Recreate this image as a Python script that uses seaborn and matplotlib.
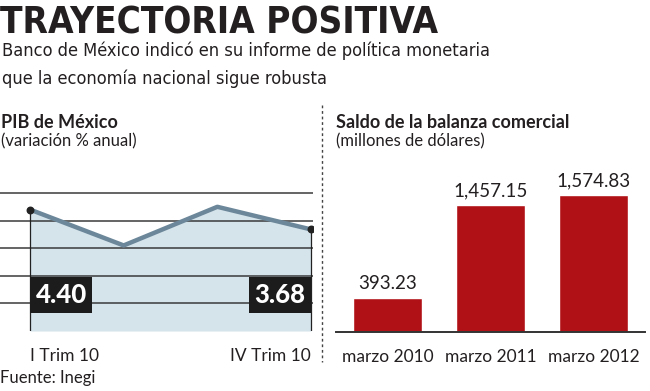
import pandas as pd
import matplotlib.pyplot as plt
import seaborn as sns
from matplotlib.lines import Line2D

# datos
trimestres = ["I Trim 10", "II Trim 10", "III Trim 10", "IV Trim 10"]
pib = [4.40, 3.1, 4.5, 3.68]
periodos = ["marzo 2010", "marzo 2011", "marzo 2012"]
saldo = [393.23, 1457.15, 1574.83]

sns.set_style("white")
plt.rcParams['font.family'] = ['Lato', 'DejaVu Sans']
cond = ['Liberation Sans Narrow', 'DejaVu Sans Condensed', 'DejaVu Sans']
ink = '#231f20'

W, H = 650, 391
fig = plt.figure(figsize=(W / 100, H / 100), dpi=100)

def fx(px):
    return px / W

def fy(px):
    return 1 - px / H

# ---- PIB (linea) ----
ax1 = fig.add_axes([fx(0), fy(331), fx(313), (331 - 185) / H])
df1 = pd.DataFrame({"pos": range(len(pib)), "pib": pib})
ax1.fill_between(df1["pos"], df1["pib"], 0, color='#d5e3eb', lw=0, zorder=0.2)
sns.lineplot(data=df1, x="pos", y="pib", color='#6b8799', lw=3.2, ax=ax1, zorder=3)
ends = df1.iloc[[0, -1]]
ax1.vlines(ends["pos"], 0, ends["pib"], color='#222222', lw=0.9, zorder=2.5)
ax1.scatter(ends["pos"], ends["pib"], s=22, color='#222222', zorder=4)
ax1.set_xlim(-30 / 93.67, 3 + 2 / 93.67)
ax1.set_ylim(0, 5.29)
ax1.set_yticks([1, 2, 3, 4, 5])
ax1.yaxis.grid(True, color='#3a3a3a', lw=1.1)
ax1.tick_params(axis='y', length=0, labelleft=False)
ax1.set_xticks([0, 3], [trimestres[0], trimestres[-1]])
ax1.tick_params(axis='x', length=0, pad=12, labelsize=12.5, labelcolor=ink)
lbls = ax1.get_xticklabels()
lbls[0].set_ha('left')
lbls[1].set_ha('right')
for s in ax1.spines.values():
    s.set_visible(False)
ax1.set_xlabel("")
ax1.set_ylabel("")

box = dict(boxstyle='square,pad=0.22', fc='#1c1c1c', ec='none')
ax1.annotate(f"{pib[0]:.2f}", xy=(0, 1.3), xytext=(4, 0), textcoords='offset points',
             ha='left', va='center', color='white', fontsize=18.5, fontweight='black',
             bbox=box, zorder=5)
ax1.annotate(f"{pib[-1]:.2f}", xy=(3, 1.3), xytext=(-4, 0), textcoords='offset points',
             ha='right', va='center', color='white', fontsize=18.5, fontweight='black',
             bbox=box, zorder=5)

# ---- Balanza comercial (barras) ----
ax2 = fig.add_axes([fx(336), fy(332), (645 - 336) / W, (332 - 185) / H])
df2 = pd.DataFrame({"periodo": periodos, "saldo": saldo})
sns.barplot(data=df2, x="periodo", y="saldo", color='#b01116', saturation=1,
            width=0.67, ax=ax2)
ax2.bar_label(ax2.containers[0], labels=[f"{v:,.2f}" for v in saldo],
              padding=4, fontsize=13.5, color=ink)
ax2.set_xlim(-0.5, 2.5)
ax2.set_ylim(0, 1690)
ax2.set_yticks([])
ax2.set_xlabel("")
ax2.set_ylabel("")
for k in ['top', 'left', 'right']:
    ax2.spines[k].set_visible(False)
ax2.spines['bottom'].set_color('#333333')
ax2.spines['bottom'].set_linewidth(1.4)
ax2.set_xticks([-0.5, 0.5, 1.5, 2.5], minor=True)
ax2.tick_params(axis='x', which='minor', length=5, width=1.2, color='#333333', direction='out')
ax2.tick_params(axis='x', which='major', length=0, pad=12, labelsize=12.5, labelcolor=ink)

# separador punteado
fig.add_artist(Line2D([fx(322), fx(322)], [fy(105), fy(362)], transform=fig.transFigure,
                      ls=(0, (2, 2)), lw=1, color='#444444'))

# ---- textos ----
fig.text(fx(0), fy(33), "TRAYECTORIA POSITIVA", family=cond, fontweight='bold',
         fontstretch='condensed', fontsize=26.5, color=ink, va='baseline')
fig.text(fx(2), fy(56), "Banco de México indicó en su informe de política monetaria",
         family=cond, fontstretch='condensed', fontsize=13.1, color=ink, va='baseline')
fig.text(fx(2), fy(84), "que la economía nacional sigue robusta",
         family=cond, fontstretch='condensed', fontsize=13.1, color=ink, va='baseline')
fig.text(fx(1), fy(128), "PIB de México", fontsize=13, fontweight='bold', color=ink, va='baseline')
fig.text(fx(1), fy(146), "(variación % anual)", fontsize=12, color=ink, va='baseline')
fig.text(fx(336), fy(128), "Saldo de la balanza comercial", fontsize=13, fontweight='bold',
         color=ink, va='baseline')
fig.text(fx(336), fy(146), "(millones de dólares)", fontsize=12, color=ink, va='baseline')
fig.text(fx(0), fy(383), "Fuente: Inegi", fontsize=12, color=ink, va='baseline')

fig.savefig("out.png", dpi=100)
